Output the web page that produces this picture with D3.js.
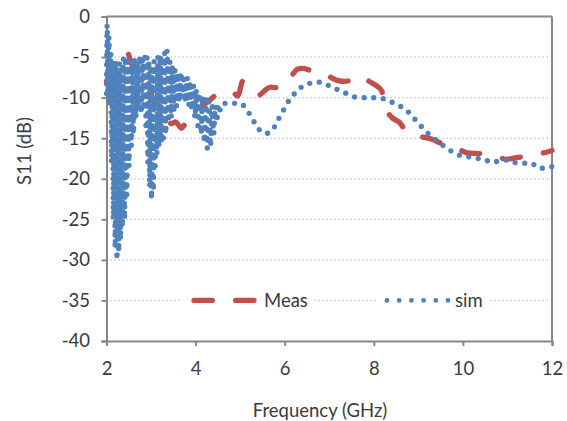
<!DOCTYPE html>
<html><head><meta charset="utf-8">
<script src="https://cdn.jsdelivr.net/npm/d3@7/dist/d3.min.js"></script>
<style>body{margin:0;background:#fff}text{font-family:Lato,"Open Sans",sans-serif;fill:#3a3a3a}</style>
</head><body><svg id="c" width="567" height="421"></svg>
<script>
const xTicks = [2,4,6,8,10,12];
const yTicks = [0,-5,-10,-15,-20,-25,-30,-35,-40];
const yTickLabels = ["0","-5","-10","-15","-20","-25","-30","-35","-40"];
const seriesNames = ["Meas","sim"];

const measFreq = [2.00,2.04,2.08,2.15,2.22,2.30,2.38,2.47,2.56,2.65,2.75,2.85,2.95,3.05,3.15,3.26,3.37,3.46,3.55,3.62,3.68,3.76,3.86,3.95,4.05,4.15,4.28,4.38,4.47,4.60,4.75,4.87,4.95,5.00,5.05,5.15,5.25,5.36,5.42,5.50,5.60,5.70,5.85,6.00,6.10,6.20,6.28,6.40,6.55,6.70,6.80,6.90,7.00,7.07,7.20,7.35,7.50,7.60,7.70,7.80,7.90,8.05,8.17,8.24,8.30,8.40,8.50,8.57,8.65,8.75,8.86,9.00,9.15,9.29,9.50,9.76,9.95,10.10,10.35,10.60,10.80,10.97,11.20,11.44,11.70,11.90,12.00];
const measDb = [-8.0,-7.5,-6.6,-6.4,-6.6,-6.0,-5.6,-4.5,-5.8,-6.6,-7.0,-7.3,-8.5,-10.3,-11.4,-12.2,-12.8,-13.2,-13.0,-13.4,-13.8,-13.3,-12.8,-12.2,-11.6,-11.0,-10.5,-10.0,-9.6,-9.3,-9.3,-9.5,-9.8,-9.0,-8.0,-8.4,-9.0,-9.4,-9.7,-9.4,-8.9,-8.7,-8.8,-8.4,-7.6,-7.0,-6.5,-6.4,-6.6,-6.9,-6.9,-7.2,-7.4,-7.6,-7.9,-8.0,-7.8,-7.4,-7.4,-7.6,-8.0,-8.5,-9.1,-10.3,-11.6,-12.4,-12.8,-13.0,-13.6,-14.2,-14.6,-14.8,-14.9,-15.1,-15.6,-16.1,-16.5,-16.8,-16.9,-17.0,-17.3,-17.6,-17.4,-17.2,-16.9,-16.7,-16.5];

const simFreq = [2.000,2.015,2.035,2.055,2.075,2.095,2.115,2.135,2.155,2.175,2.195,2.215,2.235,2.255,2.275,2.295,2.315,2.335,2.355,2.380,2.405,2.430,2.455,2.480,2.505,2.530,2.555,2.580,2.605,2.630,2.660,2.690,2.720,2.750,2.780,2.810,2.840,2.865,2.890,2.910,2.930,2.950,2.970,2.990,3.010,3.030,3.050,3.070,3.090,3.110,3.130,3.155,3.180,3.205,3.230,3.255,3.280,3.305,3.330,3.360,3.390,3.420,3.450,3.480,3.510,3.540,3.570,3.600,3.635,3.670,3.705,3.740,3.775,3.810,3.845,3.880,3.915,3.950,3.985,4.020,4.055,4.090,4.125,4.160,4.195,4.230,4.265,4.300,4.335,4.370,4.405,4.440,4.475,4.510,4.550,4.600,4.760,4.980,5.130,5.250,5.360,5.500,5.600,5.720,5.830,5.920,5.990,6.100,6.240,6.400,6.600,6.800,7.020,7.180,7.350,7.560,7.760,8.030,8.260,8.460,8.640,8.820,8.960,9.110,9.290,9.470,9.650,9.780,9.980,10.140,10.320,10.480,10.650,10.810,10.970,11.100,11.260,11.420,11.550,11.660,11.780,11.980,12.000];
const simDb = [-9.5,-1.0,-10.0,-2.5,-11.0,-4.5,-18.0,-5.5,-25.0,-6.0,-28.5,-5.5,-30.0,-6.5,-29.0,-5.8,-27.5,-6.0,-26.0,-5.2,-25.0,-5.0,-22.0,-5.5,-18.5,-6.0,-16.0,-5.5,-14.5,-5.0,-12.5,-5.5,-11.5,-4.8,-12.0,-5.2,-11.5,-4.5,-14.0,-5.0,-18.0,-5.5,-21.0,-6.0,-22.5,-6.5,-21.5,-5.5,-19.0,-6.0,-17.0,-5.0,-16.0,-4.8,-15.5,-5.0,-15.0,-4.5,-14.5,-4.2,-13.0,-5.5,-12.5,-6.0,-11.5,-6.5,-11.0,-7.0,-10.5,-6.8,-10.0,-7.2,-10.5,-7.5,-11.0,-8.0,-11.5,-8.5,-12.5,-9.0,-13.5,-9.5,-14.5,-9.8,-15.5,-10.2,-16.3,-10.5,-16.0,-11.0,-14.5,-11.0,-13.0,-10.8,-11.5,-10.7,-10.7,-10.7,-11.3,-12.4,-13.4,-14.3,-14.4,-14.0,-13.0,-12.0,-11.4,-10.3,-9.4,-8.6,-8.2,-8.1,-8.6,-9.0,-9.4,-9.9,-10.0,-10.0,-10.2,-10.7,-11.2,-12.0,-12.9,-13.8,-14.8,-15.5,-16.3,-16.7,-17.2,-17.3,-17.5,-17.6,-18.0,-17.8,-17.7,-18.0,-18.0,-18.1,-18.1,-18.6,-18.7,-18.5,-18.5];

const svg = d3.select("#c");
const x = d3.scaleLinear().domain([2,12]).range([106.5,552]);
const y = d3.scaleLinear().domain([-40,0]).range([341,16.5]);
const axisColor = "#878787";
const red = "#C0504D", blue = "#4F81BD";
const fs = 18.5;

// gridlines
svg.append("g").selectAll("line").data(yTicks.filter(d => d>-40 && d<0)).join("line")
  .attr("x1", x(2)).attr("x2", x(12)).attr("y1", d=>y(d)).attr("y2", d=>y(d))
  .attr("stroke","#cfcfcf").attr("stroke-width",1.5).attr("stroke-dasharray","1.5,2.5");

// frame top/right
svg.append("line").attr("x1",x(2)).attr("x2",x(12)).attr("y1",y(0)).attr("y2",y(0)).attr("stroke",axisColor).attr("stroke-width",2);
svg.append("line").attr("x1",x(12)).attr("x2",x(12)).attr("y1",y(0)).attr("y2",y(-40)).attr("stroke",axisColor).attr("stroke-width",2);

// axes
const xAxis = d3.axisBottom(x).tickValues(xTicks).tickFormat(d=>String(d)).tickSize(5).tickPadding(16);
const yAxis = d3.axisLeft(y).tickValues(yTicks).tickFormat((d,i)=>yTickLabels[i]).tickSize(5).tickPadding(11.5);
const gx = svg.append("g").attr("transform",`translate(0,${y(-40)})`).call(xAxis);
const gy = svg.append("g").attr("transform",`translate(${x(2)},0)`).call(yAxis);
[gx,gy].forEach(g=>{
  g.select(".domain").attr("stroke",axisColor).attr("stroke-width",2);
  g.selectAll(".tick line").attr("stroke",axisColor).attr("stroke-width",2);
  g.selectAll(".tick text").attr("font-size",fs).attr("fill","#3a3a3a").style("font-family","Lato, sans-serif");
});

// lines
const line = d3.line().x(d=>x(d[0])).y(d=>y(d[1])).curve(d3.curveMonotoneX);
const measData = measFreq.map((f,i)=>[f,measDb[i]]);
const simData = simFreq.map((f,i)=>[f,simDb[i]]);
svg.append("path").attr("d",line(measData)).attr("fill","none").attr("stroke",red)
  .attr("stroke-width",5.3).attr("stroke-linecap","round").attr("stroke-dasharray","18.3,23.3");
svg.append("path").attr("d",line(simData)).attr("fill","none").attr("stroke",blue)
  .attr("stroke-width",5.3).attr("stroke-linecap","round").attr("stroke-dasharray","0,9.6");

// legend
const ly = y(-35);
svg.append("rect").attr("x",183).attr("y",ly-9).attr("width",132).attr("height",18).attr("fill","#fff");
svg.append("rect").attr("x",378).attr("y",ly-9).attr("width",110).attr("height",18).attr("fill","#fff");
svg.append("line").attr("x1",194).attr("x2",255).attr("y1",ly).attr("y2",ly).attr("stroke",red)
  .attr("stroke-width",5.3).attr("stroke-linecap","round").attr("stroke-dasharray","18.3,23.3");
svg.append("text").attr("x",264).attr("y",ly).attr("dy","0.35em").attr("font-size",fs).text(seriesNames[0]);
svg.append("line").attr("x1",387).attr("x2",448).attr("y1",ly).attr("y2",ly).attr("stroke",blue)
  .attr("stroke-width",4.8).attr("stroke-linecap","round").attr("stroke-dasharray","0,12.2");
svg.append("text").attr("x",455).attr("y",ly).attr("dy","0.35em").attr("font-size",fs).text(seriesNames[1]);

// titles
svg.append("text").attr("x",320).attr("y",416.5).attr("text-anchor","middle").attr("font-size",fs).text("Frequency (GHz)");
svg.append("text").attr("transform","translate(25,151) rotate(-90)").attr("dy","0.35em").attr("text-anchor","middle").attr("font-size",fs).text("S11 (dB)");
</script></body></html>
